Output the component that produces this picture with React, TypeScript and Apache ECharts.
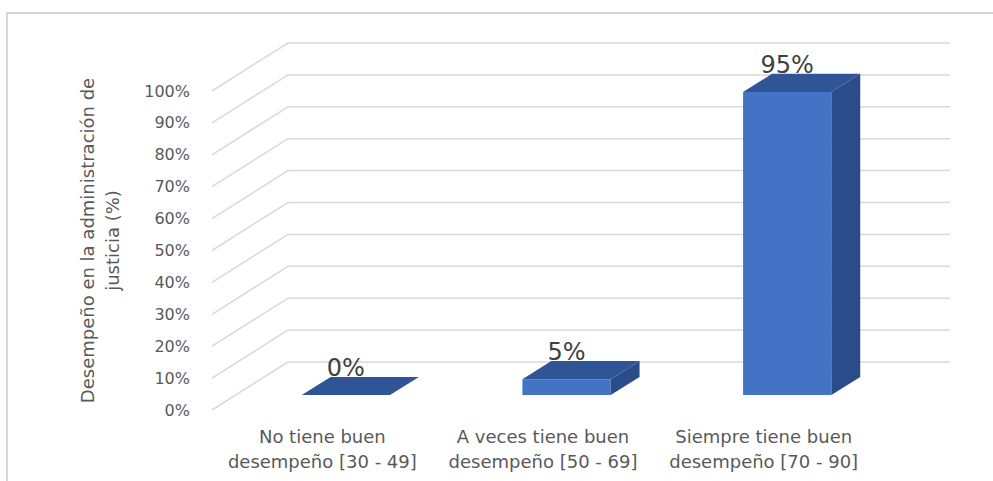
import React, { useEffect, useRef } from "react";
import * as echarts from "echarts";

const categories = [
  "No tiene buen\ndesempeño [30 - 49]",
  "A veces tiene buen\ndesempeño [50 - 69]",
  "Siempre tiene buen\ndesempeño [70 - 90]",
];
const values = [0, 5, 95];
const yTicks = [0, 10, 20, 30, 40, 50, 60, 70, 80, 90, 100];
const yAxisTitle = "Desempeño en la administración de\njusticia (%)";

const DX = 76;
const DY = 48;
const BAR_FRONT = 0.31;
const BAR_BACK = 0.69;
const BAR_RATIO = 0.4;
const FONT = "'DejaVu Sans', sans-serif";

export default function App() {
  const ref = useRef<HTMLDivElement>(null);
  useEffect(() => {
    if (!ref.current) return;
    const chart = echarts.init(ref.current, undefined, { renderer: "svg" });
    const option: any = {
      animation: false,
      backgroundColor: "#ffffff",
      grid: { left: 212, right: 119, top: 91, bottom: 71 },
      graphic: [
        {
          type: "rect",
          silent: true,
          shape: { x: 7, y: 13, width: 1000, height: 480 },
          style: { fill: "none", stroke: "#d6d6d6", lineWidth: 2 },
        },
      ],
      xAxis: {
        type: "category",
        data: categories,
        axisLine: { show: false },
        axisTick: { show: false },
        splitLine: { show: false },
        axisLabel: {
          interval: 0,
          margin: 14,
          color: "#595959",
          fontSize: 18,
          lineHeight: 25,
          fontFamily: FONT,
        },
      },
      yAxis: {
        type: "value",
        min: 0,
        max: 100,
        interval: 10,
        axisLine: { show: false },
        axisTick: { show: false },
        splitLine: { show: false },
        axisLabel: {
          formatter: "{value}%",
          margin: 22,
          color: "#595959",
          fontSize: 16,
          fontFamily: FONT,
        },
        name: yAxisTitle,
        nameLocation: "middle",
        nameRotate: 90,
        nameGap: 87,
        nameTextStyle: {
          color: "#595959",
          fontSize: 18,
          lineHeight: 25,
          fontFamily: FONT,
          padding: [0, 0, 0, 20],
        },
      },
      series: [
        {
          type: "custom",
          silent: true,
          clip: false,
          z: 1,
          data: yTicks.map((v) => [0, v]),
          renderItem: (params: any, api: any) => {
            const cs = params.coordSys;
            const y = api.coord([0, api.value(1)])[1];
            return {
              type: "polyline",
              shape: {
                points: [
                  [cs.x, y],
                  [cs.x + DX, y - DY],
                  [cs.x + cs.width + DX, y - DY],
                ],
              },
              style: { stroke: "#d9d9d9", lineWidth: 1.5, fill: "none" },
            };
          },
        },
        {
          type: "custom",
          clip: false,
          z: 2,
          data: values.map((v, i) => [i, v]),
          renderItem: (params: any, api: any) => {
            const idx = api.value(0);
            const v = api.value(1);
            const top = api.coord([idx, v]);
            const cx = top[0];
            const yT = top[1];
            const y0 = api.coord([idx, 0])[1];
            const bw = api.size([1, 0])[0] * BAR_RATIO;
            const fx = BAR_FRONT * DX;
            const fy = BAR_FRONT * DY;
            const bx = BAR_BACK * DX;
            const by = BAR_BACK * DY;
            const L = cx - bw / 2;
            const R = cx + bw / 2;
            return {
              type: "group",
              children: [
                {
                  type: "rect",
                  shape: { x: L + fx, y: yT - fy, width: bw, height: Math.max(0, y0 - yT) },
                  style: { fill: "#4472C4" },
                },
                {
                  type: "polygon",
                  shape: {
                    points: [
                      [R + fx, yT - fy],
                      [R + bx, yT - by],
                      [R + bx, y0 - by],
                      [R + fx, y0 - fy],
                    ],
                  },
                  style: { fill: "#2B4C8A" },
                },
                {
                  type: "polygon",
                  shape: {
                    points: [
                      [L + fx, yT - fy],
                      [R + fx, yT - fy],
                      [R + bx, yT - by],
                      [L + bx, yT - by],
                    ],
                  },
                  style: { fill: "#2F5597" },
                },
                {
                  type: "text",
                  style: {
                    text: v + "%",
                    x: cx + fx,
                    y: yT - by - 9,
                    align: "center",
                    verticalAlign: "middle",
                    fill: "#404040",
                    fontSize: 24,
                    fontFamily: FONT,
                  },
                },
              ],
            };
          },
        },
      ],
    };
    chart.setOption(option);
    return () => chart.dispose();
  }, []);
  return (
    <div
      ref={ref}
      style={{ position: "fixed", left: 0, top: 0, width: 993, height: 481 }}
    />
  );
}
